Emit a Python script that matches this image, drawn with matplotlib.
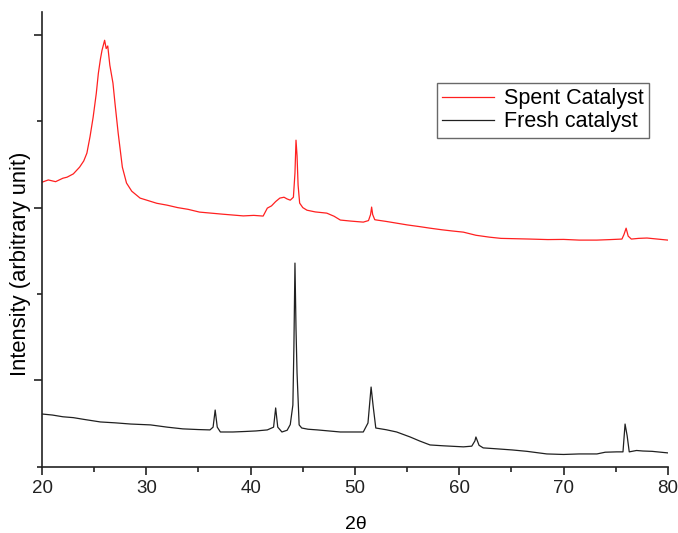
import matplotlib.pyplot as plt
from matplotlib.ticker import MultipleLocator, NullFormatter

plt.rcParams['font.family'] = ['Liberation Sans', 'DejaVu Sans']

# spent catalyst (red trace)
spent_x = [20.0, 20.6, 21.3, 22.0, 22.4, 23.0, 23.6, 24.0, 24.3, 24.6, 24.9, 25.2,
           25.4, 25.6, 25.75, 26.0, 26.15, 26.3, 26.5, 26.8, 27.0, 27.3, 27.7, 28.1,
           28.6, 29.4, 30.2, 31.0, 32.0, 33.0, 34.0, 35.1, 36.2, 37.3, 38.3, 39.3,
           40.3, 41.2, 41.6, 42.0, 42.4, 42.8, 43.2, 43.5, 43.8, 44.1, 44.25, 44.35,
           44.45, 44.55, 44.7, 45.0, 45.4, 46.2, 47.3, 48.0, 48.6, 49.6, 50.8, 51.3,
           51.5, 51.6, 51.7, 51.9, 52.1, 53.0, 54.0, 55.0, 56.2, 57.2, 58.3, 59.3,
           60.4, 61.6, 62.9, 64.0, 65.4, 66.8, 68.5, 70.0, 71.5, 73.2, 74.5, 75.6,
           75.8, 76.0, 76.2, 76.5, 77.2, 78.0, 79.0, 80.0]
spent_y = [2147, 2160, 2150, 2170, 2176, 2195, 2234, 2270, 2315, 2410, 2523, 2660,
           2777, 2860, 2910, 2968, 2920, 2935, 2824, 2720, 2600, 2431, 2234, 2142,
           2095, 2055, 2040, 2025, 2014, 2000, 1990, 1974, 1968, 1962, 1957, 1952,
           1955, 1951, 1997, 2010, 2035, 2055, 2060, 2050, 2043, 2060, 2200, 2390,
           2300, 2130, 2026, 2000, 1985, 1975, 1968, 1950, 1928, 1922, 1916, 1925,
           1960, 2003, 1960, 1930, 1928, 1920, 1910, 1900, 1890, 1881, 1872, 1865,
           1858, 1840, 1829, 1822, 1820, 1818, 1815, 1816, 1812, 1812, 1815, 1818,
           1845, 1881, 1835, 1818, 1822, 1824, 1818, 1812]

# fresh catalyst (black trace)
fresh_x = [20.0, 21.0, 22.0, 23.0, 24.0, 25.6, 27.0, 28.5, 30.4, 32.0, 33.5, 35.0,
           36.1, 36.4, 36.6, 36.8, 37.1, 38.3, 39.5, 40.5, 41.6, 42.2, 42.4, 42.6,
           43.0, 43.5, 43.8, 44.05, 44.15, 44.25, 44.35, 44.45, 44.65, 44.9, 45.5,
           46.4, 47.5, 48.6, 49.6, 50.8, 51.25, 51.55, 51.75, 52.0, 53.0, 54.0, 55.3,
           56.2, 57.2, 58.5, 60.4, 61.2, 61.5, 61.6, 61.9, 62.3, 63.5, 65.1, 66.5,
           68.4, 70.0, 71.5, 73.2, 74.0, 75.1, 75.7, 75.9, 76.1, 76.3, 77.0, 77.6,
           78.5, 80.0]
fresh_y = [806, 800, 790, 785, 775, 760, 755, 748, 743, 730, 720, 716,
           714, 730, 829, 730, 702, 702, 705, 708, 714, 730, 841, 730,
           702, 712, 745, 858, 1200, 1679, 1300, 1043, 743, 725, 718,
           714, 708, 702, 702, 702, 754, 962, 850, 725, 715, 702, 673,
           650, 627, 622, 616, 620, 650, 673, 625, 610, 605, 598, 590,
           575, 572, 575, 575, 585, 587, 587, 748, 680, 587, 595, 592,
           590, 581]

fig = plt.figure(figsize=(6.78, 5.33), dpi=100)
ax = fig.add_axes([0.062, 0.124, 0.923, 0.853])

ax.plot(spent_x, spent_y, color='#ff2020', lw=0.9, label='Spent Catalyst')
ax.plot(fresh_x, fresh_y, color='#202020', lw=0.9, label='Fresh catalyst')

ax.set_xlim(20, 80)
ax.set_ylim(500, 3130)
ax.xaxis.set_major_locator(MultipleLocator(10))
ax.xaxis.set_minor_locator(MultipleLocator(5))
ax.yaxis.set_major_locator(MultipleLocator(1000))
ax.yaxis.set_minor_locator(MultipleLocator(500))
ax.yaxis.set_major_formatter(NullFormatter())

for s in ['top', 'right']:
    ax.spines[s].set_visible(False)
for s in ['left', 'bottom']:
    ax.spines[s].set_linewidth(1.2)
    ax.spines[s].set_color('#222222')

ax.tick_params(which='major', direction='out', length=5.8, width=1.2, colors='#222222',
               labelsize=13.5, pad=3.3)
ax.tick_params(which='minor', direction='out', length=3.6, width=1.2, colors='#222222')

ax.set_xlabel('2θ', fontsize=14)
ax.xaxis.set_label_coords(0.501, -0.108)
ax.set_ylabel('Intensity (arbitrary unit)', fontsize=15.8)
ax.yaxis.set_label_coords(-0.018, 0.446)

leg = ax.legend(loc='upper left', bbox_to_anchor=(0.631, 0.845), fontsize=15.5,
                frameon=True, fancybox=False, edgecolor='#444444', handlelength=2.4,
                borderpad=0.25, labelspacing=0.1, handletextpad=0.45, borderaxespad=0)
leg.get_frame().set_linewidth(1.0)

fig.savefig('out.png', dpi=100)
